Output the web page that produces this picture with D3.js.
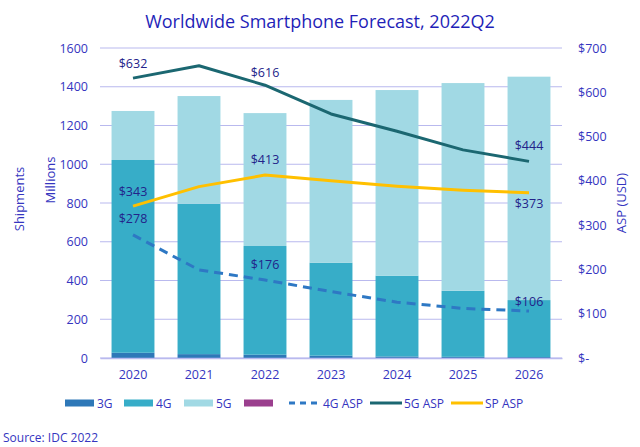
<!DOCTYPE html>
<html><head><meta charset="utf-8">
<script src="https://cdn.jsdelivr.net/npm/d3@7"></script>
<style>
body{margin:0;background:#fff;}
text{font-family:"Open Sans","Noto Sans",sans-serif;}
</style></head>
<body><svg id="c" width="640" height="447"></svg>
<script>
const years = ["2020","2021","2022","2023","2024","2025","2026"];
const g3 = [27, 20, 17, 12, 8, 6, 5];
const g4 = [995, 776, 561, 480, 417, 341, 294];
const g5 = [253, 556, 686, 840, 958, 1072, 1153];
const asp4G = [278, 199, 176, 150, 126, 112, 106];
const asp5G = [632, 660, 616, 551, 512, 470, 444];
const aspSP = [343, 387, 413, 400, 388, 379, 373];
const leftTicks = [0,200,400,600,800,1000,1200,1400,1600];
const rightTicks = [0,100,200,300,400,500,600,700];

const svg = d3.select("#c");
const L=100, R=562, T=48, B=358;
const x = d3.scaleBand().domain(years).range([L,R]).paddingInner(0.35).paddingOuter(0.175);
const y = d3.scaleLinear().domain([0,1600]).range([B,T]);
const y2 = d3.scaleLinear().domain([0,700]).range([B,T]);
const axisCol="#3535c0", labCol="#23238a";

svg.append("text").attr("x",320).attr("y",28).attr("text-anchor","middle")
  .attr("font-size",18).attr("fill","#1f1fb8").text("Worldwide Smartphone Forecast, 2022Q2");

// grid
svg.append("g").selectAll("line").data(leftTicks).join("line")
  .attr("x1",L).attr("x2",R).attr("y1",d=>y(d)).attr("y2",d=>y(d))
  .attr("stroke","#b9b9ee").attr("stroke-width",1);

// left axis
const ay = svg.append("g").attr("transform",`translate(${L},0)`)
  .call(d3.axisLeft(y).tickValues(leftTicks).tickSize(0).tickPadding(12).tickFormat(d3.format("d")));
ay.select(".domain").remove();
ay.selectAll("text").attr("fill",axisCol).attr("font-size",12.5);

// right axis
const ay2 = svg.append("g").attr("transform",`translate(${R},0)`)
  .call(d3.axisRight(y2).tickValues(rightTicks).tickSize(0).tickPadding(16).tickFormat(d=>d===0?"$-":"$"+d));
ay2.select(".domain").remove();
ay2.selectAll("text").attr("fill",axisCol).attr("font-size",12.5);

// bars
const stackData = years.map((yr,i)=>({year:yr,g3:g3[i],g4:g4[i],g5:g5[i]}));
const stack = d3.stack().keys(["g3","g4","g5"])(stackData);
const colors = {g3:"#2e78b8",g4:"#37adc8",g5:"#a1d9e4"};
svg.append("g").selectAll("g").data(stack).join("g").attr("fill",d=>colors[d.key])
  .selectAll("rect").data(d=>d).join("rect")
  .attr("x",d=>x(d.data.year)).attr("width",x.bandwidth())
  .attr("y",d=>y(d[1])).attr("height",d=>y(d[0])-y(d[1]));

// bottom axis
const ax = svg.append("g").attr("transform",`translate(0,${B})`)
  .call(d3.axisBottom(x).tickSize(0).tickPadding(12));
ax.select(".domain").attr("stroke","#b9b9ee").attr("stroke-width",1.5);
ax.selectAll("text").attr("fill",axisCol).attr("font-size",12.5);

// lines
const cx = d=>x(d)+x.bandwidth()/2;
const mk = arr => d3.line().x((d,i)=>cx(years[i])).y(d=>y2(d)).curve(d3.curveLinear)(arr);
svg.append("path").attr("d",mk(asp4G)).attr("fill","none").attr("stroke","#2e78c4").attr("stroke-width",3).attr("stroke-dasharray","9,6").attr("stroke-linejoin","round");
svg.append("path").attr("d",mk(asp5G)).attr("fill","none").attr("stroke","#1b6771").attr("stroke-width",3).attr("stroke-linejoin","round");
svg.append("path").attr("d",mk(aspSP)).attr("fill","none").attr("stroke","#ffc000").attr("stroke-width",3).attr("stroke-linejoin","round");

// data labels
const labels = [
  [asp5G,0,-15],[asp5G,2,-13],[asp5G,6,-16],
  [aspSP,0,-15],[aspSP,2,-16],[aspSP,6,11],
  [asp4G,0,-16],[asp4G,2,-16],[asp4G,6,-10]
];
svg.append("g").selectAll("text").data(labels).join("text")
  .attr("x",d=>cx(years[d[1]])).attr("y",d=>y2(d[0][d[1]])+d[2]+4.5)
  .attr("text-anchor","middle").attr("font-size",12.5).attr("fill",labCol)
  .text(d=>"$"+d[0][d[1]]);

// axis titles
svg.append("text").attr("transform","translate(24,199) rotate(-90)").attr("text-anchor","middle")
  .attr("font-size",13).attr("fill",axisCol).text("Shipments");
svg.append("text").attr("transform","translate(55,180) rotate(-90)").attr("text-anchor","middle")
  .attr("font-size",13).attr("fill",axisCol).text("Millions");
svg.append("text").attr("transform","translate(626,203) rotate(-90)").attr("text-anchor","middle")
  .attr("font-size",13).attr("fill",axisCol).text("ASP (USD)");

// legend
const legY=403;
const legItems = [
  {t:"rect",c:"#2e78b8",x:65,label:"3G"},
  {t:"rect",c:"#37adc8",x:124,label:"4G"},
  {t:"rect",c:"#a1d9e4",x:184,label:"5G"},
  {t:"rect",c:"#9b3f8e",x:244,label:""},
  {t:"dash",c:"#2e78c4",x:289,label:"4G ASP"},
  {t:"line",c:"#1b6771",x:370,label:"5G ASP"},
  {t:"line",c:"#ffc000",x:451,label:"SP ASP"}
];
const lg = svg.append("g");
legItems.forEach(it=>{
  if(it.t==="rect"){
    lg.append("rect").attr("x",it.x).attr("y",legY-3.5).attr("width",29).attr("height",7).attr("fill",it.c);
    lg.append("text").attr("x",it.x+32).attr("y",legY+4.5).attr("font-size",12).attr("fill",axisCol).text(it.label);
  } else {
    lg.append("line").attr("x1",it.x).attr("x2",it.x+32).attr("y1",legY).attr("y2",legY)
      .attr("stroke",it.c).attr("stroke-width",3).attr("stroke-dasharray",it.t==="dash"?"6,5":null);
    lg.append("text").attr("x",it.x+34).attr("y",legY+4.5).attr("font-size",12).attr("fill",axisCol).text(it.label);
  }
});

svg.append("text").attr("x",3).attr("y",442).attr("font-size",12).attr("fill",axisCol).text("Source: IDC 2022");
</script></body></html>
